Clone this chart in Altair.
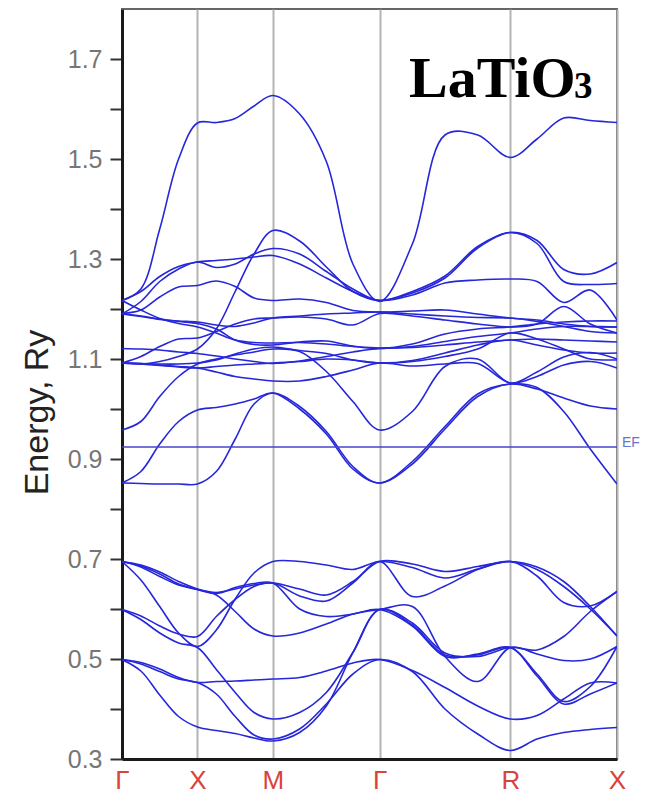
import altair as alt
import pandas as pd

# k-path nodes (quarter points of each segment Γ-X-M-Γ-R-X)
K = [0.000, 0.125, 0.250, 0.375, 0.500,
     0.625, 0.750, 0.875, 1.000,
     1.177, 1.354, 1.530, 1.707,
     1.924, 2.140, 2.357, 2.573,
     2.750, 2.927, 3.103, 3.280]
SYM_K = [0.0, 0.5, 1.0, 1.707, 2.573, 3.280]
SYM_LABELS = ["Γ", "X", "M", "Γ", "R", "X"]
EF = 0.924
Y_TICKS = [0.3, 0.4, 0.5, 0.6, 0.7, 0.8, 0.9, 1.0, 1.1, 1.2, 1.3, 1.4, 1.5, 1.6, 1.7]

# lower (O 2p) bands
L1 = [0.695,0.686,0.670,0.650,0.639, 0.628,0.595,0.560,0.546, 0.552,0.570,0.590,0.599, 0.605,0.505,0.455,0.523, 0.510,0.497,0.500,0.525]
L2 = [0.695,0.658,0.605,0.552,0.525, 0.558,0.620,0.672,0.695, 0.695,0.688,0.679,0.695, 0.683,0.662,0.680,0.695, 0.679,0.645,0.600,0.546]
L3 = [0.599,0.586,0.566,0.550,0.545, 0.585,0.619,0.645,0.652, 0.626,0.616,0.652,0.695, 0.625,0.646,0.679,0.695, 0.666,0.613,0.606,0.635]
L4 = [0.695,0.684,0.665,0.648,0.639, 0.631,0.643,0.651,0.652, 0.600,0.585,0.590,0.599, 0.566,0.505,0.510,0.523, 0.466,0.410,0.430,0.452]
L5 = [0.599,0.579,0.552,0.532,0.523, 0.479,0.433,0.393,0.380, 0.393,0.433,0.513,0.599, 0.572,0.512,0.505,0.523, 0.518,0.545,0.595,0.635]
L6 = [0.499,0.493,0.480,0.463,0.453, 0.455,0.456,0.458,0.460, 0.463,0.476,0.492,0.499, 0.477,0.443,0.406,0.380, 0.387,0.420,0.452,0.452]
L7 = [0.499,0.490,0.475,0.460,0.453, 0.430,0.385,0.348,0.340, 0.360,0.410,0.470,0.499, 0.475,0.400,0.350,0.317, 0.340,0.353,0.359,0.363]
L8 = [0.499,0.476,0.428,0.385,0.364, 0.357,0.351,0.342,0.336, 0.353,0.406,0.513,0.599, 0.568,0.508,0.508,0.523, 0.470,0.415,0.445,0.525]
L9 = [0.695,0.688,0.674,0.655,0.640, 0.633,0.640,0.648,0.652, 0.640,0.628,0.655,0.695, 0.690,0.675,0.685,0.695, 0.684,0.655,0.605,0.546]

# t2g bands
T1 = [0.852,0.851,0.850,0.850,0.850, 0.875,0.940,1.010,1.032, 1.005,0.955,0.885,0.852, 0.895,0.965,1.030,1.050, 1.043,0.995,0.920,0.850]
T2 = [0.852,0.875,0.930,0.975,0.998, 1.003,1.010,1.020,1.032, 1.000,0.950,0.880,0.852, 0.890,0.960,1.025,1.050, 1.040,1.022,1.006,1.000]
T3 = [0.958,0.975,1.025,1.065,1.090, 1.100,1.108,1.114,1.120, 1.115,1.075,1.015,0.958, 0.995,1.085,1.100,1.052, 1.074,1.104,1.113,1.100]

# upper bands
U1 = [1.217,1.240,1.360,1.500,1.572, 1.573,1.581,1.606,1.627, 1.590,1.495,1.290,1.215, 1.330,1.548,1.548,1.503, 1.540,1.582,1.577,1.573]
U2 = [1.217,1.235,1.265,1.285,1.294, 1.297,1.300,1.304,1.307, 1.290,1.262,1.235,1.217, 1.232,1.262,1.322,1.353, 1.337,1.279,1.270,1.293]
U3 = [1.092,1.090,1.095,1.105,1.120, 1.160,1.235,1.310,1.357, 1.336,1.284,1.235,1.217, 1.228,1.252,1.258,1.260, 1.255,1.213,1.238,1.178]
U4 = [1.190,1.215,1.255,1.280,1.294, 1.283,1.290,1.310,1.321, 1.310,1.275,1.240,1.217, 1.235,1.266,1.325,1.353, 1.331,1.255,1.249,1.251]
U5 = [1.191,1.198,1.224,1.244,1.247, 1.256,1.245,1.222,1.217, 1.220,1.213,1.197,1.194, 1.196,1.198,1.190,1.182, 1.178,1.170,1.165,1.164]
U6 = [1.191,1.186,1.180,1.175,1.171, 1.160,1.138,1.129,1.128, 1.134,1.136,1.126,1.121, 1.130,1.150,1.160,1.164, 1.170,1.174,1.176,1.176]
U7 = [1.217,1.198,1.181,1.171,1.164, 1.152,1.138,1.133,1.132, 1.133,1.130,1.125,1.122, 1.125,1.135,1.145,1.152, 1.160,1.165,1.165,1.164]
U8 = [1.121,1.120,1.118,1.114,1.111, 1.106,1.100,1.095,1.091, 1.096,1.105,1.114,1.121, 1.123,1.128,1.134,1.138, 1.140,1.138,1.136,1.134]
U9 = [1.092,1.091,1.090,1.090,1.092, 1.098,1.110,1.120,1.124, 1.117,1.111,1.098,1.092, 1.097,1.112,1.128,1.138, 1.128,1.118,1.112,1.112]
U10 = [1.092,1.090,1.087,1.084,1.082, 1.085,1.088,1.090,1.092, 1.095,1.100,1.098,1.092, 1.095,1.105,1.120,1.152, 1.140,1.120,1.100,1.098]
U11 = [1.092,1.105,1.125,1.140,1.142, 1.155,1.170,1.180,1.182, 1.184,1.180,1.168,1.191, 1.186,1.178,1.170,1.164, 1.170,1.205,1.170,1.152]
U12 = [1.190,1.185,1.179,1.176,1.174, 1.168,1.165,1.172,1.182, 1.186,1.190,1.192,1.194, 1.190,1.186,1.183,1.182, 1.175,1.165,1.155,1.152]
U13 = [1.092,1.091,1.088,1.085,1.082, 1.074,1.065,1.060,1.056, 1.056,1.065,1.078,1.092, 1.086,1.090,1.091,1.052, 1.065,1.088,1.095,1.082]

BANDS = {
    "L1": L1, "L2": L2, "L3": L3, "L4": L4, "L5": L5, "L6": L6, "L7": L7, "L8": L8, "L9": L9,
    "T1": T1, "T2": T2, "T3": T3,
    "U1": U1, "U2": U2, "U3": U3, "U4": U4, "U5": U5, "U6": U6, "U7": U7,
    "U8": U8, "U9": U9, "U10": U10, "U11": U11, "U12": U12, "U13": U13,
}

rows = []
for name, vals in BANDS.items():
    for k, e in zip(K, vals):
        rows.append({"band": name, "k": k, "E": e})
df = pd.DataFrame(rows)

BAND_COLOR = "#2626da"
X_SCALE = alt.Scale(domain=[0.0, 3.280], nice=False, zero=False)
Y_SCALE = alt.Scale(domain=[0.3, 1.8], nice=False, zero=False)

label_expr = ("datum.value < 0.25 ? 'Γ' : datum.value < 0.75 ? 'X' : datum.value < 1.35 ? 'M' : "
              "datum.value < 2.1 ? 'Γ' : datum.value < 2.9 ? 'R' : 'X'")

Y_AXIS = alt.Axis(
    values=Y_TICKS,
    labelExpr="(round(datum.value*10) % 2 == 1) ? format(datum.value, '.1f') : ''",
    grid=False, tickSize=12, tickWidth=2, tickColor="#333333",
    labelFontSize=25, labelColor="#767676", labelFont="Liberation Sans", labelPadding=8,
    domainColor="#1a1a1a", domainWidth=3,
    title="Energy, Ry", titleFontSize=34, titleColor="#222222", titleFontWeight="normal",
    titleFont="Liberation Sans", titleAngle=270, titleX=-85, titleY=403,
    titleAlign="center", titleBaseline="middle")

X_AXIS = alt.Axis(
    values=SYM_K, labelExpr=label_expr, grid=True, gridColor="#b4b4b4", gridWidth=2,
    ticks=False, title=None, labelFontSize=26, labelColor="#d8433c",
    labelFont="Liberation Sans", labelPadding=8, labelFlush=False,
    domainColor="#1a1a1a", domainWidth=3)

lines = alt.Chart(df).mark_line(
    interpolate="catmull-rom", strokeWidth=1.6, color=BAND_COLOR, clip=True
).encode(
    x=alt.X("k:Q", scale=X_SCALE, axis=X_AXIS),
    y=alt.Y("E:Q", scale=Y_SCALE, axis=Y_AXIS),
    detail="band:N",
)

ef_df = pd.DataFrame({"E": [EF], "t": ["EF"]})
ef_rule = alt.Chart(ef_df).mark_rule(color="#4646c8", strokeWidth=1.5).encode(
    y=alt.Y("E:Q", scale=Y_SCALE, axis=Y_AXIS)
)
ef_text = alt.Chart(ef_df).mark_text(
    align="left", baseline="middle", dy=-4, fontSize=14, color="#6474d0",
    font="Liberation Sans"
).encode(
    x=alt.value(500), y=alt.Y("E:Q", scale=Y_SCALE, axis=Y_AXIS), text="t:N"
)

one = pd.DataFrame({"a": [0]})
title_main = alt.Chart(one).mark_text(
    align="left", baseline="alphabetic", font="Liberation Serif", fontWeight="bold",
    fontSize=58, color="black"
).encode(x=alt.value(287), y=alt.value(88), text=alt.value("LaTiO"))
title_sub = alt.Chart(one).mark_text(
    align="left", baseline="alphabetic", font="Liberation Serif", fontWeight="bold",
    fontSize=37, color="black"
).encode(x=alt.value(452), y=alt.value(89), text=alt.value("3"))

chart = alt.layer(lines, ef_rule, ef_text, title_main, title_sub).properties(
    width=495, height=750,
    padding={"left": 114, "top": 1, "right": 24, "bottom": 37},
    autosize=alt.AutoSizeParams(type="none"),
).configure_view(stroke="#666666", strokeWidth=2)

chart.save("out.html", embed_options={"renderer": "svg", "actions": False})
